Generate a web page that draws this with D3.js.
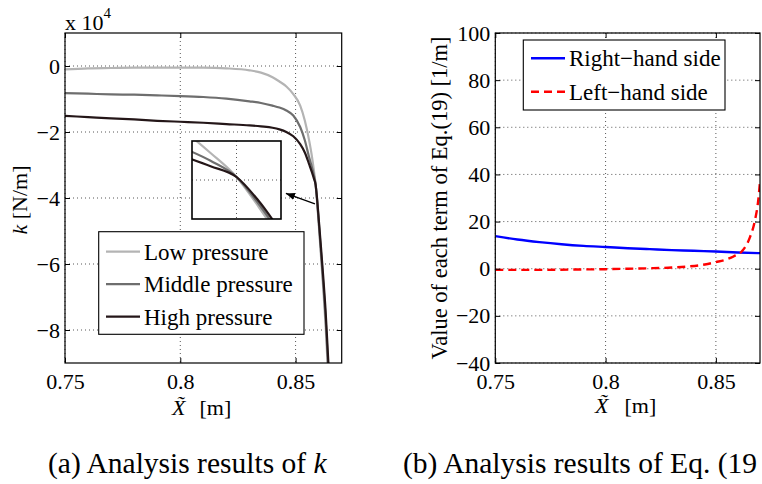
<!DOCTYPE html>
<html><head><meta charset="utf-8">
<script src="https://cdn.jsdelivr.net/npm/d3@7"></script>
<style>
body{margin:0;background:#fff}
svg{display:block}
text{font-family:"Liberation Serif","Tinos","DejaVu Serif",serif;fill:#000}
</style>
</head><body>
<script>
// ---------- data: panel (a) ----------
const kX    = [0.75,0.76,0.77,0.78,0.79,0.80,0.81,0.82,0.83,0.835,0.84,0.843,0.846,0.849,0.852,0.854,0.856,0.857,0.858,0.8587,0.8593,0.860,0.861,0.862,0.863,0.864,0.865];
const kLow  = [-0.10,-0.07,-0.06,-0.05,-0.05,-0.05,-0.05,-0.07,-0.13,-0.20,-0.34,-0.47,-0.62,-0.85,-1.20,-1.65,-2.30,-2.70,-3.20,-3.60,-4.10,-4.75,-5.75,-6.75,-7.85,-9.20,-10.6];
const kMid  = [-0.82,-0.84,-0.86,-0.87,-0.89,-0.91,-0.94,-0.99,-1.07,-1.12,-1.20,-1.26,-1.35,-1.50,-1.85,-2.25,-2.80,-3.05,-3.33,-3.60,-4.05,-4.68,-5.62,-6.58,-7.62,-8.95,-10.3];
const kHigh = [-1.51,-1.55,-1.59,-1.62,-1.66,-1.69,-1.72,-1.76,-1.80,-1.83,-1.87,-1.92,-2.00,-2.13,-2.37,-2.62,-3.00,-3.20,-3.42,-3.60,-4.00,-4.60,-5.48,-6.40,-7.40,-8.70,-10.0];
const kNames = ["Low pressure","Middle pressure","High pressure"];
const kXTicks = [0.75,0.8,0.85];
const kYTicks = [0,-2,-4,-6,-8];
const kInsetXDomain = [0.8575,0.8599];
const kInsetYDomain = [-3.0,-4.3];
const kInsetGridX = [0.8587];
const kInsetGridY = [-3.65];
const kArrowFrom = [0.8584,-4.18];
const kArrowTo   = [0.8458,-3.86];

// ---------- data: panel (b) ----------
const rhsX = [0.75,0.76,0.77,0.78,0.79,0.80,0.81,0.82,0.83,0.84,0.85,0.86,0.87];
const rhsY = [13.8,12.4,11.3,10.4,9.7,9.2,8.7,8.3,7.9,7.6,7.3,6.9,6.6];
const lhsX = [0.75,0.77,0.79,0.80,0.81,0.82,0.83,0.838,0.845,0.85,0.855,0.858,0.862,0.8655,0.8677,0.8692,0.87];
const lhsY = [-0.5,-0.5,-0.3,-0.2,0.0,0.2,0.5,1.0,1.8,2.8,4.0,5.2,7.6,13.5,20.5,29,37];
const eqNames = ["Right\u2212hand side","Left\u2212hand side"];
const eqXTicks = [0.75,0.8,0.85];
const eqYTicks = [-40,-20,0,20,40,60,80,100];

const FF = '"Liberation Serif","Tinos","DejaVu Serif",serif';
const FS = 22;
const LFS = 23;
const svg = d3.select("body").append("svg").attr("width",762).attr("height",484);
const fmtY = d => d < 0 ? "\u2212" + Math.abs(d) : String(d);

function frame(g, x, y, xt, yt, id){
  const [x0,x1] = x.range(), [y1,y0] = y.range();
  const grid = g.append("g").attr("stroke","#444").attr("stroke-width",0.9).attr("stroke-dasharray","1,3");
  grid.selectAll(".gx").data(xt).join("line").attr("x1",d=>x(d)).attr("x2",d=>x(d)).attr("y1",y0).attr("y2",y1);
  grid.selectAll(".gy").data(yt).join("line").attr("y1",d=>y(d)).attr("y2",d=>y(d)).attr("x1",x0).attr("x2",x1);
  svg.append("clipPath").attr("id",id).append("rect").attr("x",x0).attr("y",y0).attr("width",x1-x0).attr("height",y1-y0);
}
function axes(g, x, y, xt, yt){
  const [x0,x1] = x.range(), [y1,y0] = y.range();
  const style = a => { a.select(".domain").remove(); a.attr("font-family",FF).attr("font-size",FS); a.selectAll("text").attr("font-size",FS).attr("font-family",FF); a.selectAll("line").attr("stroke","#000"); };
  g.append("g").attr("transform",`translate(0,${y1})`).call(d3.axisBottom(x).tickValues(xt).tickFormat(d=>String(d)).tickSizeInner(-5).tickSizeOuter(0).tickPadding(10)).call(style);
  g.append("g").attr("transform",`translate(0,${y0})`).call(d3.axisTop(x).tickValues(xt).tickFormat("").tickSizeInner(-5).tickSizeOuter(0)).call(style);
  g.append("g").attr("transform",`translate(${x0},0)`).call(d3.axisLeft(y).tickValues(yt).tickFormat(fmtY).tickSizeInner(-5).tickSizeOuter(0).tickPadding(5)).call(style);
  g.append("g").attr("transform",`translate(${x1},0)`).call(d3.axisRight(y).tickValues(yt).tickFormat("").tickSizeInner(-5).tickSizeOuter(0)).call(style);
  g.append("rect").attr("x",x0).attr("y",y0).attr("width",x1-x0).attr("height",y1-y0).attr("fill","none").attr("stroke","#000").attr("stroke-width",1.2);
}

// ================= panel (a) =================
const xL = d3.scaleLinear().domain([0.75,0.87]).range([65,341.7]);
const yL = d3.scaleLinear().domain([-9,1]).range([363,33]);
const gA = svg.append("g");
frame(gA, xL, yL, kXTicks, kYTicks, "clipA");
const kSeries = [kLow,kMid,kHigh];
const kColors = ["#b4b4b4","#6e6e6e","#241618"];
const lineA = (xs,x,y) => d3.line().x((d,i)=>x(xs[i])).y(d=>y(d)).curve(d3.curveMonotoneX);
gA.append("g").attr("clip-path","url(#clipA)").selectAll("path").data(kSeries).join("path")
  .attr("d",d=>lineA(kX,xL,yL)(d)).attr("fill","none").attr("stroke",(d,i)=>kColors[i]).attr("stroke-width",2.2);
axes(gA, xL, yL, kXTicks, kYTicks);

const ex = gA.append("text").attr("x",65).attr("y",30).attr("font-size",FS);
ex.append("tspan").text("x 10");
ex.append("tspan").attr("font-size",15).attr("dy",-12).text("4");

// inset
const xI = d3.scaleLinear().domain(kInsetXDomain).range([192,281]);
const yI = d3.scaleLinear().domain(kInsetYDomain).range([141,219]);
gA.append("rect").attr("x",192).attr("y",141).attr("width",89).attr("height",78).attr("fill","#fff");
svg.append("clipPath").attr("id","clipI").append("rect").attr("x",192).attr("y",141).attr("width",89).attr("height",78);
const gI = gA.append("g");
const gridI = gI.append("g").attr("stroke","#444").attr("stroke-width",0.9).attr("stroke-dasharray","1,3");
gridI.selectAll(".a").data(kInsetGridX).join("line").attr("x1",d=>xI(d)).attr("x2",d=>xI(d)).attr("y1",141).attr("y2",219);
gridI.selectAll(".b").data(kInsetGridY).join("line").attr("y1",d=>yI(d)).attr("y2",d=>yI(d)).attr("x1",192).attr("x2",281);
gI.append("g").attr("clip-path","url(#clipI)").selectAll("path").data(kSeries).join("path")
  .attr("d",d=>lineA(kX,xI,yI)(d)).attr("fill","none").attr("stroke",(d,i)=>kColors[i]).attr("stroke-width",2.2);
gI.append("rect").attr("x",192).attr("y",141).attr("width",89).attr("height",78).attr("fill","none").attr("stroke","#000").attr("stroke-width",1.6);

// arrow
svg.append("defs").append("marker").attr("id","arr").attr("viewBox","0 0 10 10").attr("refX",10).attr("refY",5)
  .attr("markerWidth",9).attr("markerHeight",9).attr("markerUnits","userSpaceOnUse").attr("orient","auto")
  .append("path").attr("d","M0,1 L10,5 L0,9 Z").attr("fill","#000");
gA.append("line").attr("x1",xL(kArrowFrom[0])).attr("y1",yL(kArrowFrom[1])).attr("x2",xL(kArrowTo[0])).attr("y2",yL(kArrowTo[1]))
  .attr("stroke","#000").attr("stroke-width",1.3).attr("marker-end","url(#arr)");

// legend (a)
const lgA = gA.append("g");
lgA.append("rect").attr("x",98.7).attr("y",231.7).attr("width",205.3).attr("height",102.6).attr("fill","#fff").attr("stroke","#000").attr("stroke-width",1.1);
kNames.forEach((n,i)=>{
  const cy = 251.7 + i*32.5;
  lgA.append("line").attr("x1",106).attr("x2",140).attr("y1",cy).attr("y2",cy).attr("stroke",kColors[i]).attr("stroke-width",2.2);
  lgA.append("text").attr("x",144).attr("y",cy).attr("dy","0.34em").attr("font-size",LFS).text(n);
});

// axis labels (a)
const xlA = gA.append("text").attr("x",172).attr("y",415).attr("font-size",FS);
xlA.append("tspan").attr("font-style","italic").text("X\u0303");
xlA.append("tspan").attr("dx",14).text("[m]");
const ylA = gA.append("text").attr("transform","translate(27,200) rotate(-90)").attr("text-anchor","middle").attr("font-size",FS);
ylA.append("tspan").attr("font-style","italic").text("k");
ylA.append("tspan").text(" [N/m]");

// ================= panel (b) =================
const xR = d3.scaleLinear().domain([0.75,0.87]).range([495.3,760]);
const yR = d3.scaleLinear().domain([-40,100]).range([363,33]);
const gB = svg.append("g");
frame(gB, xR, yR, eqXTicks, eqYTicks, "clipB");
const lineB = (xs) => d3.line().x((d,i)=>xR(xs[i])).y(d=>yR(d)).curve(d3.curveMonotoneX);
const cB = gB.append("g").attr("clip-path","url(#clipB)");
cB.append("path").attr("d",lineB(rhsX)(rhsY)).attr("fill","none").attr("stroke","#0000ff").attr("stroke-width",2.4);
cB.append("path").attr("d",lineB(lhsX)(lhsY)).attr("fill","none").attr("stroke","#ff0000").attr("stroke-width",2.4).attr("stroke-dasharray","8,5");
axes(gB, xR, yR, eqXTicks, eqYTicks);

// legend (b)
const lgB = gB.append("g");
lgB.append("rect").attr("x",523.3).attr("y",40).attr("width",201.7).attr("height",70).attr("fill","#fff").attr("stroke","#000").attr("stroke-width",1.1);
const eqStyles = [{c:"#0000ff",da:null},{c:"#ff0000",da:"8,5"}];
eqNames.forEach((n,i)=>{
  const cy = 58.3 + i*33.4;
  lgB.append("line").attr("x1",531).attr("x2",565).attr("y1",cy).attr("y2",cy).attr("stroke",eqStyles[i].c).attr("stroke-width",2.4).attr("stroke-dasharray",eqStyles[i].da);
  lgB.append("text").attr("x",569).attr("y",cy).attr("dy","0.34em").attr("font-size",LFS).text(n);
});

// axis labels (b)
const xlB = gB.append("text").attr("x",595).attr("y",413).attr("font-size",FS);
xlB.append("tspan").attr("font-style","italic").text("X\u0303");
xlB.append("tspan").attr("dx",16).text("[m]");
gB.append("text").attr("transform","translate(447,198) rotate(-90)").attr("text-anchor","middle").attr("font-size",22.5)
  .text("Value of each term of Eq.(19) [1/m]");

// captions
const capA = svg.append("text").attr("x",48).attr("y",473).attr("font-size",29.5);
capA.append("tspan").text("(a) Analysis results of ");
capA.append("tspan").attr("font-style","italic").text("k");
svg.append("text").attr("x",403).attr("y",473).attr("font-size",29.5).text("(b) Analysis results of Eq. (19");
</script>
</body></html>
